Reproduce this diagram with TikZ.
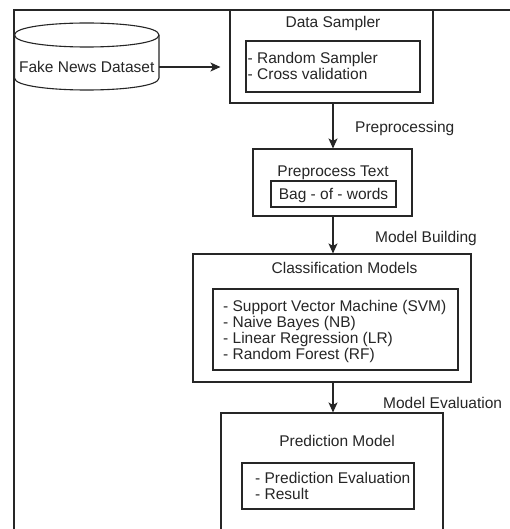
\documentclass[tikz,border=0pt]{standalone}
\usepackage{fontspec}
\setmainfont{Liberation Sans}
\usetikzlibrary{arrows.meta,fit,calc}
\begin{document}
\begin{tikzpicture}[x=1pt,y=-1pt,
  every node/.style={font=\fontsize{15.5}{16}\selectfont, text=black!85, inner sep=0pt},
  ln/.style={draw=black!85, line width=1.1pt},
  box/.style={ln, inner sep=0pt},
  lbl/.style={text height=11pt, text depth=0pt},
  listtext/.style={align=left, anchor=north west},
  arr/.style={ln, -{Stealth[length=10pt,width=9pt,inset=2.5pt]}}
]
\clip (0,0) rectangle (510,529);
\fill[white] (0,0) rectangle (510,529);

% frame
\draw[ln] (510,10) -- (14,10) -- (14,535);

% dataset cylinder
\node[minimum width=145pt, minimum height=67pt] (dataset) at (86.75,56.5) {};
\draw[ln, fill=white] (14.5,35) .. controls (14.5,19) and (159,19) .. (159,35)
  -- (159,78) .. controls (159,94) and (14.5,94) .. (14.5,78) -- cycle;
\draw[ln] (14.5,35) .. controls (14.5,51) and (159,51) .. (159,35);
\node[lbl] (datasettext) at (86.75,67) {Fake News Dataset};

% data sampler
\node[box, fit={(230,10.5) (433,103)}] (sampler) {};
\node[lbl] (samplertitle) at (333,22) {Data Sampler};
\node[box, fit={(246,41) (420,92)}] (samplerin) {};
\node[listtext] (samplerlist) at (247.5,52.3) {- Random Sampler\\- Cross validation};

% preprocessing
\node[box, fit={(253,149) (412,216)}] (prep) {};
\node[lbl] (preptitle) at (333,171) {Preprocess Text};
\node[box, fit={(271,181) (396,207)}] (prepin) {};
\node[lbl] (bow) at (333.5,194.5) {Bag - of - words};

% classification
\node[box, fit={(193,254) (471,382)}] (cls) {};
\node[lbl] (clstitle) at (344.5,268) {Classification Models};
\node[box, fit={(213,289) (458,370)}] (clsin) {};
\node[listtext] (clslist) at (223,300) {- Support Vector Machine (SVM)\\- Naive Bayes (NB)\\- Linear Regression (LR)\\- Random Forest (RF)};

% prediction
\node[box, fit={(221,413) (443,560)}] (pred) {};
\node[lbl] (predtitle) at (337,441) {Prediction Model};
\node[box, fit={(242,463) (414,509)}] (predin) {};
\node[listtext] (predlist) at (255,472.2) {- Prediction Evaluation\\- Result};

% connectors
\coordinate (ax) at (333,0);
\draw[arr, shorten >=9pt] (datasettext.east -| dataset.east) -- (datasettext.east -| sampler.west);
\draw[arr] (sampler.south -| ax) -- (prep.north -| ax);
\draw[arr] (prep.south -| ax) -- (cls.north -| ax);
\draw[arr] (cls.south -| ax) -- (pred.north -| ax);

% step labels
\node[lbl, anchor=west] (l1) at (355,127) {Preprocessing};
\node[lbl, anchor=west] (l2) at (375,237) {Model Building};
\node[lbl, anchor=west] (l3) at (383,403) {Model Evaluation};
\end{tikzpicture}
\end{document}
